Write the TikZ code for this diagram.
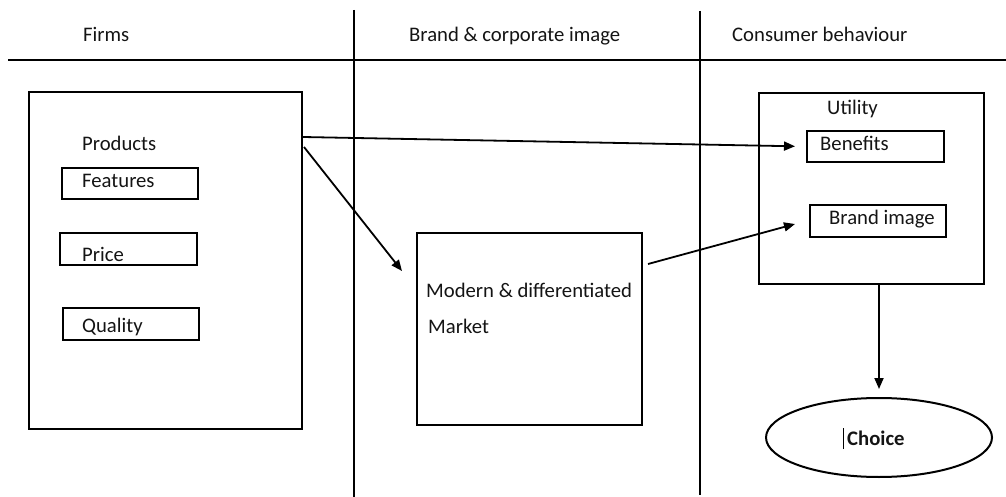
\documentclass[tikz,border=0pt]{standalone}
\usepackage{fontspec}
\setmainfont{Carlito}
\usetikzlibrary{calc,arrows.meta,shapes.geometric}
\begin{document}
\begin{tikzpicture}[x=1pt,y=-1pt,
  rule/.style={line width=2pt,black},
  frame/.style={draw,line width=2pt,inner sep=0pt,minimum width=#1},
  lbl/.style={anchor=base west,inner sep=0pt,text=black!92,font=\fontsize{20.7}{24}\selectfont},
  link/.style={line width=1.8pt,-{Triangle[length=11pt,width=9pt]}}]
\useasboundingbox (0,0) rectangle (1006,497);

% column rules
\coordinate (hl) at (8,60);
\coordinate (hr) at (1006,60);
\coordinate (v1t) at (354,10);
\coordinate (v1b) at (354,497);
\coordinate (v2t) at (700,11);
\coordinate (v2b) at (700,495);
\draw[rule] (hl) -- (hr);
\draw[rule] (v1t) -- (v1b);
\draw[rule] (v2t) -- (v2b);

% column headings
\node[lbl] (hfirms) at (83,42) {Firms};
\node[lbl] (hbrand) at (409,42) {Brand \& corporate image};
\node[lbl] (hcons) at (732,42) {Consumer behaviour};

% firms column
\node[frame=273pt,minimum height=337pt] (firms) at (165.5,260.5) {};
\node[lbl] (products) at (82,151) {Products};
\node[frame=136pt,minimum height=31pt] (features) at (130,183.5) {};
\node[lbl] (tfeatures) at (82,188) {Features};
\node[frame=137pt,minimum height=32pt] (price) at (128.5,249) {};
\node[lbl] (tprice) at (82,261) {Price};
\node[frame=136pt,minimum height=32pt] (quality) at (131,324) {};
\node[lbl] (tquality) at (82,332) {Quality};

% brand column
\node[frame=225pt,minimum height=192pt] (modern) at (529.5,329) {};
\node[lbl] (tmodern) at (426,297) {Modern \& differentiated};
\node[lbl] (tmarket) at (428,333) {Market};

% consumer column
\node[frame=225pt,minimum height=191pt] (utility) at (871.5,188.5) {};
\node[lbl] (tutility) at (827,115) {Utility};
\node[frame=137pt,minimum height=31pt] (benefits) at (875.5,146.5) {};
\node[lbl] (tbenefits) at (820,151) {Benefits};
\node[frame=136pt,minimum height=32pt] (brandimg) at (878,221) {};
\node[lbl] (tbrandimg) at (829,224) {Brand image};
\node[draw,ellipse,line width=2pt,inner sep=0pt,minimum width=226pt,minimum height=79pt] (choice) at (879,437.5) {};
\node[lbl,font=\fontsize{20.7}{24}\selectfont\bfseries] (tchoice) at (847,445) {Choice};
\draw[line width=0.8pt] ($(tchoice.base west)+(-4,4)$) -- ($(tchoice.base west)+(-4,-17)$);

% connectors
\coordinate (fa) at ($(firms.north east)+(0,46)$);
\coordinate (fb) at ($(firms.north east)+(1,56)$);
\coordinate (ma) at ($(modern.north west)+(-14,39)$);
\coordinate (mb) at ($(modern.north east)+(5,32)$);
\coordinate (ba) at ($(brandimg.west)+(-14,3)$);
\draw[link,shorten >=11pt] (fa) -- (benefits.west);
\draw[link] (fb) -- (ma);
\draw[link] (mb) -- (ba);
\draw[link,shorten >=8pt] (utility.south -| choice.north) -- (choice.north);
\end{tikzpicture}
\end{document}
